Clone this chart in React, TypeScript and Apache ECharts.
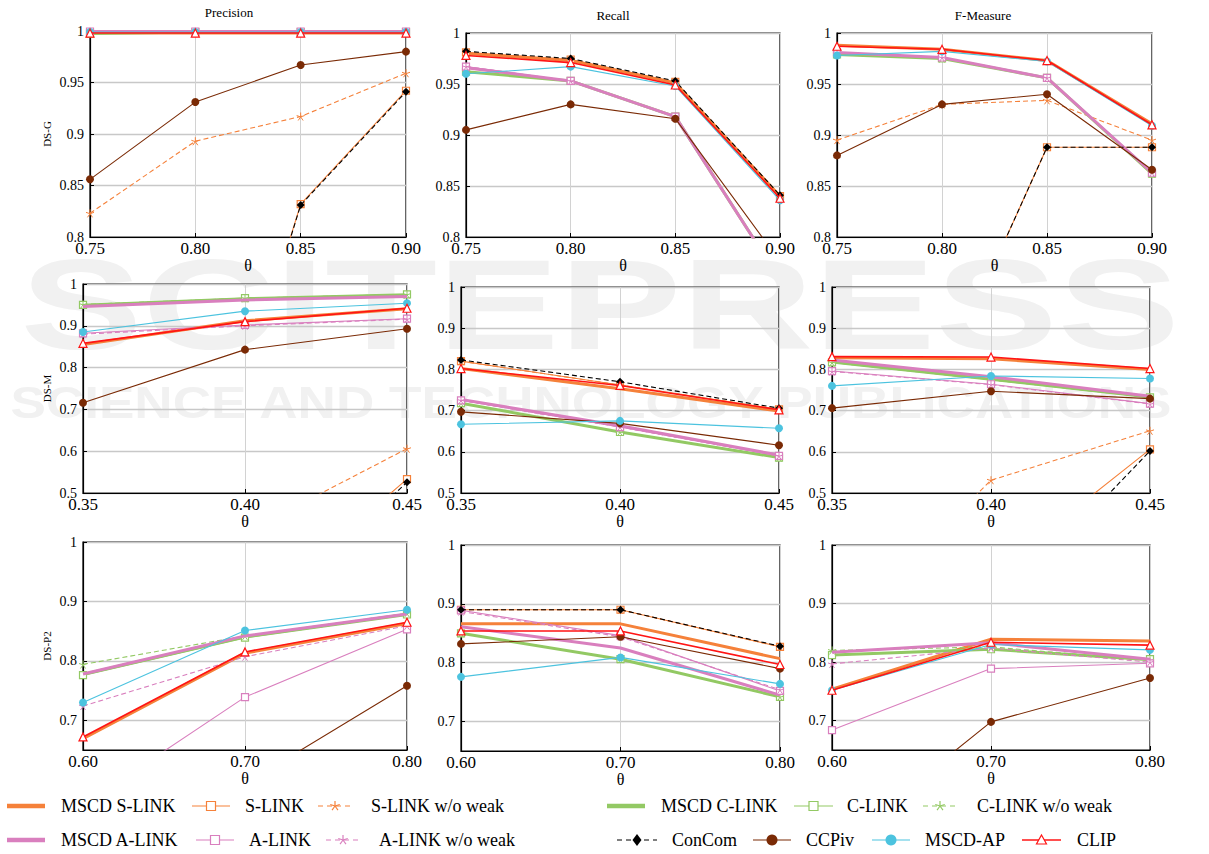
import React, { useEffect, useRef } from 'react';
import * as echarts from 'echarts';

const FONT = '"Liberation Serif", "Times New Roman", serif';

// ---------------- data ----------------
const seriesNames = [
  'MSCD S-LINK', 'S-LINK', 'S-LINK w/o weak',
  'MSCD C-LINK', 'C-LINK', 'C-LINK w/o weak',
  'MSCD A-LINK', 'A-LINK', 'A-LINK w/o weak',
  'ConCom', 'CCPiv', 'MSCD-AP', 'CLIP',
];

const thetaG = ['0.75', '0.80', '0.85', '0.90'];
const thetaM = ['0.35', '0.40', '0.45'];
const thetaP2 = ['0.60', '0.70', '0.80'];

const columnTitles = ['Precision', 'Recall', 'F-Measure'];
const rowLabels = ['DS-G', 'DS-M', 'DS-P2'];

// DS-G (order of rows = seriesNames)
const precisionG = [
  [0.998, 0.998, 0.998, 0.998],
  [0.35, 0.5, 0.832, 0.942],
  [0.823, 0.893, 0.917, 0.959],
  [0.9975, 0.999, 0.999, 0.999],
  [0.9975, 0.999, 0.999, 0.999],
  [0.9975, 0.999, 0.999, 0.999],
  [0.9995, 0.9995, 0.9995, 0.9995],
  [0.9995, 0.9995, 0.9995, 0.9995],
  [0.9995, 0.9995, 0.9995, 0.9995],
  [0.35, 0.5, 0.831, 0.941],
  [0.856, 0.931, 0.967, 0.98],
  [0.999, 0.999, 0.999, 0.999],
  [0.998, 0.998, 0.998, 0.998],
];
const recallG = [
  [0.98, 0.973, 0.951, 0.84],
  [0.981, 0.974, 0.952, 0.84],
  [0.981, 0.974, 0.952, 0.84],
  [0.962, 0.953, 0.918, 0.758],
  [0.962, 0.953, 0.918, 0.758],
  [0.962, 0.953, 0.918, 0.758],
  [0.966, 0.953, 0.918, 0.758],
  [0.967, 0.953, 0.918, 0.758],
  [0.967, 0.953, 0.918, 0.758],
  [0.982, 0.975, 0.953, 0.841],
  [0.905, 0.93, 0.916, 0.776],
  [0.96, 0.967, 0.948, 0.836],
  [0.978, 0.971, 0.949, 0.838],
];
const fmeasureG = [
  [0.988, 0.984, 0.973, 0.911],
  [0.52, 0.66, 0.888, 0.888],
  [0.895, 0.93, 0.934, 0.895],
  [0.979, 0.975, 0.956, 0.862],
  [0.979, 0.975, 0.956, 0.862],
  [0.979, 0.975, 0.956, 0.862],
  [0.981, 0.976, 0.956, 0.863],
  [0.981, 0.976, 0.956, 0.863],
  [0.981, 0.976, 0.956, 0.863],
  [0.52, 0.66, 0.888, 0.888],
  [0.88, 0.93, 0.94, 0.866],
  [0.978, 0.982, 0.972, 0.909],
  [0.987, 0.984, 0.973, 0.91],
];

// DS-M
const precisionM = [
  [0.855, 0.912, 0.941],
  [0.1, 0.2, 0.533],
  [0.25, 0.405, 0.606],
  [0.949, 0.965, 0.974],
  [0.95, 0.966, 0.975],
  [0.951, 0.966, 0.975],
  [0.946, 0.962, 0.97],
  [0.882, 0.902, 0.917],
  [0.88, 0.9, 0.916],
  [0.08, 0.16, 0.526],
  [0.716, 0.843, 0.893],
  [0.885, 0.935, 0.954],
  [0.858, 0.91, 0.942],
];
const recallM = [
  [0.802, 0.753, 0.699],
  [0.82, 0.762, 0.703],
  [0.82, 0.762, 0.703],
  [0.718, 0.648, 0.586],
  [0.718, 0.648, 0.586],
  [0.718, 0.648, 0.586],
  [0.727, 0.663, 0.592],
  [0.725, 0.66, 0.59],
  [0.725, 0.66, 0.59],
  [0.823, 0.77, 0.706],
  [0.697, 0.669, 0.616],
  [0.667, 0.675, 0.657],
  [0.802, 0.761, 0.702],
];
const fmeasureM = [
  [0.828, 0.826, 0.8],
  [0.12, 0.3, 0.606],
  [0.15, 0.531, 0.651],
  [0.818, 0.776, 0.733],
  [0.817, 0.775, 0.732],
  [0.817, 0.775, 0.732],
  [0.823, 0.782, 0.735],
  [0.796, 0.764, 0.717],
  [0.795, 0.763, 0.716],
  [0.12, 0.2, 0.602],
  [0.706, 0.747, 0.729],
  [0.76, 0.784, 0.778],
  [0.831, 0.83, 0.802],
];

// DS-P2
const precisionP2 = [
  [0.669, 0.813, 0.863],
  [0.3, 0.35, 0.42],
  [0.35, 0.4, 0.5],
  [0.777, 0.84, 0.878],
  [0.776, 0.839, 0.878],
  [0.794, 0.842, 0.88],
  [0.778, 0.842, 0.879],
  [0.557, 0.739, 0.853],
  [0.724, 0.807, 0.859],
  [0.3, 0.35, 0.42],
  [0.34, 0.593, 0.758],
  [0.73, 0.851, 0.886],
  [0.672, 0.815, 0.865],
];
const recallP2 = [
  [0.866, 0.866, 0.807],
  [0.89, 0.89, 0.827],
  [0.89, 0.89, 0.827],
  [0.85, 0.806, 0.742],
  [0.85, 0.806, 0.742],
  [0.85, 0.806, 0.742],
  [0.861, 0.825, 0.745],
  [0.889, 0.846, 0.752],
  [0.887, 0.844, 0.754],
  [0.89, 0.89, 0.828],
  [0.832, 0.844, 0.79],
  [0.776, 0.809, 0.764],
  [0.854, 0.854, 0.797],
];
const fmeasureP2 = [
  [0.754, 0.839, 0.836],
  [0.45, 0.5, 0.56],
  [0.5, 0.55, 0.62],
  [0.812, 0.822, 0.804],
  [0.812, 0.822, 0.805],
  [0.82, 0.826, 0.803],
  [0.817, 0.833, 0.805],
  [0.684, 0.789, 0.798],
  [0.797, 0.824, 0.8],
  [0.45, 0.5, 0.56],
  [0.48, 0.698, 0.773],
  [0.752, 0.83, 0.821],
  [0.752, 0.834, 0.829],
];

const yTicksP2 = [0.7, 0.8, 0.9, 1];

// ---------------- styles ----------------
const ORANGE = '#f5813a';
const GREEN = '#93c964';
const PINK = '#d97fbe';
const BLACK = '#000000';
const BROWN = '#7a2a05';
const CYAN = '#4cc3df';
const RED = '#ff1414';
const STAR =
  'path://M50,50L50,0M50,50L97.55,34.55M50,50L79.39,90.45M50,50L20.61,90.45M50,50L2.45,34.55';

type Sty = { color: string; width: number; dash?: boolean; symbol: string; size: number; open?: boolean };
const styles: Sty[] = [
  { color: ORANGE, width: 3, symbol: 'none', size: 0 },
  { color: ORANGE, width: 1.1, symbol: 'rect', size: 7, open: true },
  { color: ORANGE, width: 1.1, dash: true, symbol: 'star', size: 8 },
  { color: GREEN, width: 3, symbol: 'none', size: 0 },
  { color: GREEN, width: 1.1, symbol: 'rect', size: 7, open: true },
  { color: GREEN, width: 1.1, dash: true, symbol: 'star', size: 8 },
  { color: PINK, width: 3, symbol: 'none', size: 0 },
  { color: PINK, width: 1.1, symbol: 'rect', size: 7, open: true },
  { color: PINK, width: 1.1, dash: true, symbol: 'star', size: 8 },
  { color: BLACK, width: 1.1, dash: true, symbol: 'diamond', size: 8 },
  { color: BROWN, width: 1.1, symbol: 'circle', size: 8 },
  { color: CYAN, width: 1.1, symbol: 'circle', size: 8 },
  { color: RED, width: 1.6, symbol: 'triangle', size: 8, open: true },
];

// panel boxes [left, top, width, height]
const boxes = [
  [90, 31, 316, 206], [466, 33, 314, 204], [837, 33, 315, 204],
  [83, 284, 324, 209], [461, 287, 318, 206], [832, 287, 318, 206],
  [83, 542, 324, 208], [461, 545, 319, 206], [832, 545, 318, 205],
];
const titlePos = [[229, 6], [613, 9], [983, 9]];

// legend layout [x1, x2, y, textX]
const legendPos = [
  [7, 45, 806, 61], [192, 230, 806, 245], [318, 352, 806, 371],
  [607, 645, 806, 661], [794, 833, 806, 847], [923, 957, 806, 977],
  [7, 45, 840, 61], [196, 234, 840, 249], [326, 360, 840, 379],
  [617, 657, 840, 672], [753, 791, 840, 806], [872, 910, 840, 925],
  [1022, 1061, 840, 1077],
];

function fmt(v: number) {
  return String(Math.round(v * 100) / 100);
}

function buildOption() {
  const rows = [
    { theta: thetaG, min: 0.8, max: 1, interval: 0.05, data: [precisionG, recallG, fmeasureG], custom: null as number[] | null },
    { theta: thetaM, min: 0.5, max: 1, interval: 0.1, data: [precisionM, recallM, fmeasureM], custom: null as number[] | null },
    { theta: thetaP2, min: 0.65, max: 1, interval: 0.05, data: [precisionP2, recallP2, fmeasureP2], custom: yTicksP2 },
  ];
  const grids: any[] = [];
  const xAxes: any[] = [];
  const yAxes: any[] = [];
  const series: any[] = [];
  rows.forEach((row, r) => {
    row.data.forEach((panel, c) => {
      const i = r * 3 + c;
      const [l, t, w, h] = boxes[i];
      grids.push({ left: l, top: t, width: w, height: h, show: true, borderColor: '#000', borderWidth: 1.2, backgroundColor: 'transparent', containLabel: false });
      xAxes.push({
        gridIndex: i,
        type: 'category',
        data: row.theta,
        boundaryGap: false,
        axisLine: { lineStyle: { color: '#000', width: 1.2 } },
        axisTick: { inside: true, length: 4, alignWithLabel: true, lineStyle: { color: '#000' } },
        axisLabel: { interval: 0, margin: 3, fontSize: 17, fontFamily: FONT, color: '#000' },
        splitLine: { show: true, lineStyle: { color: '#d2d2d2', width: 1 } },
        name: 'θ',
        nameLocation: 'middle',
        nameGap: r === 0 ? 18 : 19,
        nameTextStyle: { fontSize: 16, fontFamily: FONT, color: '#000' },
      });
      const yAxis: any = {
        gridIndex: i,
        type: 'value',
        min: row.min,
        max: row.max,
        interval: row.interval,
        axisLine: { show: true, lineStyle: { color: '#000', width: 1.2 } },
        axisTick: { show: true, inside: true, length: 4, lineStyle: { color: '#000' } },
        axisLabel: { margin: 6, fontSize: 14, fontFamily: FONT, color: '#000', formatter: fmt },
        splitLine: { show: true, lineStyle: { color: '#c8c8c8', width: 1.3 } },
      };
      if (row.custom) {
        yAxis.axisTick.customValues = row.custom;
        yAxis.axisLabel.customValues = row.custom;
      }
      if (c === 0) {
        yAxis.name = rowLabels[r];
        yAxis.nameLocation = 'middle';
        yAxis.nameRotate = 90;
        yAxis.nameGap = r === 0 ? 38 : 31;
        yAxis.nameTextStyle = { fontSize: 11, fontFamily: FONT, color: '#000' };
      }
      yAxes.push(yAxis);
      panel.forEach((values, k) => {
        const s = styles[k];
        const symbol = s.symbol === 'star' ? STAR : s.symbol;
        series.push({
          type: 'line',
          name: seriesNames[k],
          xAxisIndex: i,
          yAxisIndex: i,
          data: values,
          symbol,
          symbolSize: s.size,
          showSymbol: s.symbol !== 'none',
          clip: true,
          silent: true,
          z: 2 + k * 0.01,
          lineStyle: { color: s.color, width: s.width, type: s.dash ? [5, 3] : 'solid' },
          itemStyle:
            s.symbol === 'star'
              ? { color: 'none', borderColor: s.color, borderWidth: 1 }
              : s.open
              ? { color: '#ffffff', borderColor: s.color, borderWidth: 1.2 }
              : { color: s.color, borderColor: s.color, borderWidth: 0 },
          emphasis: { disabled: true },
        });
      });
    });
  });

  const titles = columnTitles.map((txt, c) => ({
    text: txt,
    left: titlePos[c][0],
    top: titlePos[c][1],
    padding: 0,
    textAlign: 'center',
    textStyle: { fontSize: 13, fontWeight: 'normal', fontFamily: FONT, color: '#000' },
  }));

  // faint publisher watermark + legend drawn as graphic elements
  const graphics: any[] = [
    {
      type: 'text', x: 600, y: 304, z: -10, scaleX: 1.43, silent: true,
      style: { text: 'SCITEPRESS', font: 'bold 128px "Liberation Sans"', fill: '#f1f1f1', textAlign: 'center', textVerticalAlign: 'middle' },
    },
    {
      type: 'text', x: 591, y: 402, z: -10, scaleX: 1.18, silent: true,
      style: { text: 'SCIENCE AND TECHNOLOGY PUBLICATIONS', font: 'bold 45px "Liberation Sans"', fill: '#f1f1f1', textAlign: 'center', textVerticalAlign: 'middle' },
    },
  ];
  seriesNames.forEach((name, k) => {
    const s = styles[k];
    const [x1, x2, y, tx] = legendPos[k];
    const cx = (x1 + x2) / 2;
    graphics.push({
      type: 'line',
      shape: { x1, y1: y, x2, y2: y },
      style: { stroke: s.color, lineWidth: s.symbol === 'none' ? 4.5 : s.width, lineDash: s.dash ? [5, 4] : null },
      silent: true,
    });
    if (s.symbol === 'rect') {
      graphics.push({ type: 'rect', shape: { x: cx - 4.5, y: y - 4.5, width: 9, height: 9 }, style: { fill: '#fff', stroke: s.color, lineWidth: 1.2 }, silent: true });
    } else if (s.symbol === 'circle') {
      graphics.push({ type: 'circle', shape: { cx, cy: y, r: 5.5 }, style: { fill: s.color }, silent: true });
    } else if (s.symbol === 'triangle') {
      graphics.push({ type: 'polygon', shape: { points: [[cx, y - 5], [cx + 5, y + 4], [cx - 5, y + 4]] }, style: { fill: '#fff', stroke: s.color, lineWidth: 1.2 }, silent: true });
    } else if (s.symbol === 'diamond') {
      graphics.push({ type: 'polygon', shape: { points: [[cx, y - 6], [cx + 4.5, y], [cx, y + 6], [cx - 4.5, y]] }, style: { fill: s.color }, silent: true });
    } else if (s.symbol === 'star') {
      for (let a = 0; a < 5; a++) {
        const ang = -Math.PI / 2 + (a * 2 * Math.PI) / 5;
        graphics.push({ type: 'line', shape: { x1: cx, y1: y, x2: cx + 5 * Math.cos(ang), y2: y + 5 * Math.sin(ang) }, style: { stroke: s.color, lineWidth: 1.2 }, silent: true });
      }
    }
    graphics.push({
      type: 'text',
      x: tx,
      y,
      silent: true,
      style: { text: name, font: `18px ${FONT}`, fill: '#000', textAlign: 'left', textVerticalAlign: 'middle' },
    });
  });

  return {
    animation: false,
    backgroundColor: '#ffffff',
    title: titles,
    grid: grids,
    xAxis: xAxes,
    yAxis: yAxes,
    series,
    graphic: { elements: graphics },
    tooltip: { show: false },
  };
}

export default function App() {
  const ref = useRef<HTMLDivElement>(null);
  useEffect(() => {
    document.body.style.margin = '0';
    if (!ref.current) return;
    const chart = echarts.init(ref.current, undefined, { renderer: 'svg' });
    chart.setOption(buildOption() as any);
    return () => chart.dispose();
  }, []);
  return <div ref={ref} style={{ width: 1209, height: 854 }} />;
}
